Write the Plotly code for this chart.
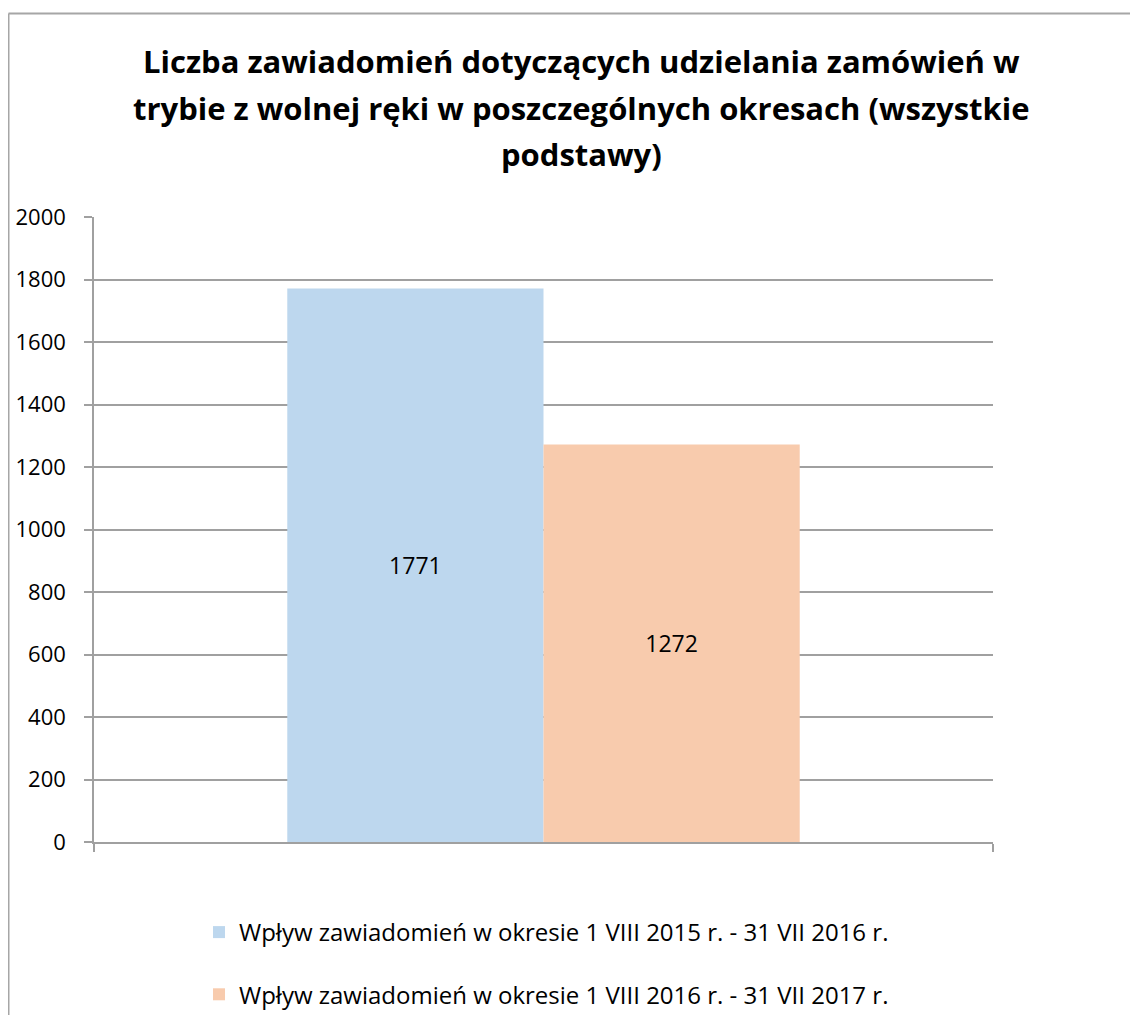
import plotly.graph_objects as go

categories = [""]
series_names = [
    "Wpływ zawiadomień w okresie 1 VIII 2015 r. - 31 VII 2016 r.",
    "Wpływ zawiadomień w okresie 1 VIII 2016 r. - 31 VII 2017 r.",
]
series_values = [[1771], [1272]]
series_colors = ["#BDD7EE", "#F8CBAD"]
y_ticks = [0, 200, 400, 600, 800, 1000, 1200, 1400, 1600, 1800, 2000]
title_lines = [
    "Liczba zawiadomień dotyczących udzielania zamówień w",
    "trybie z wolnej ręki w poszczególnych okresach (wszystkie",
    "podstawy)",
]

FONT = "Open Sans"
OFF = 8  # page body margin
W, H = 1138 - OFF, 1015 - OFF
L, R, T, B = 94 - OFF, 1138 - 993, 217 - OFF, 1015 - 842

fig = go.Figure()
for i, (name, vals, col) in enumerate(zip(series_names, series_values, series_colors)):
    fig.add_trace(go.Bar(
        x=categories, y=vals, name=name, marker_color=col, marker_line_width=0,
        text=[str(v) for v in vals], textposition="inside", insidetextanchor="middle",
        textangle=0, textfont=dict(size=23, color="black", family=FONT),
        legendgroup=f"g{i}",
    ))

pw = W - L - R
ph = H - T - B
def px_x(p):  # reference page pixel -> paper x
    return (p - OFF - L) / pw
def px_y(p):  # reference page pixel -> paper y
    return (H - B - (p - OFF)) / ph

for line, yc in zip(title_lines, [61, 108, 154]):
    fig.add_annotation(text=line, xref="paper", yref="paper", x=px_x(581), y=px_y(yc),
                       xanchor="center", yanchor="middle", showarrow=False,
                       font=dict(size=31, family=FONT, color="black", weight="bold"))

fig.update_layout(
    width=W, height=H,
    margin=dict(l=L, r=R, t=T, b=B, autoexpand=False),
    paper_bgcolor="white", plot_bgcolor="white",
    barmode="group", bargap=0.43, bargroupgap=0,
    font=dict(family=FONT, color="black"),
    showlegend=True,
    legend=dict(x=px_x(199), xanchor="left", y=px_y(910), yanchor="top",
                orientation="v", tracegroupgap=28,
                font=dict(size=24, family=FONT, color="black"),
                bgcolor="rgba(0,0,0,0)"),
    xaxis=dict(type="category", showticklabels=False, tickson="boundaries",
               ticks="outside", ticklen=8, tickcolor="#A0A0A0", tickwidth=1.5,
               showline=True, linecolor="#A0A0A0", linewidth=1.5,
               showgrid=False, zeroline=False, range=[-0.5, 0.5]),
    yaxis=dict(range=[0, 2000], tickvals=y_ticks, ticks="outside", ticklen=8,
               tickcolor="#A0A0A0", tickwidth=1.5, showline=True,
               linecolor="#A0A0A0", linewidth=1.5, showgrid=True,
               gridcolor="#A0A0A0", gridwidth=1.5, zeroline=False,
               tickfont=dict(size=22, family=FONT, color="black"),
               ticklabelstandoff=14),
)

# outer chart border (left and top edges visible)
fig.add_shape(type="line", xref="paper", yref="paper",
              x0=px_x(8.5), x1=px_x(1150), y0=px_y(13.5), y1=px_y(13.5),
              line=dict(color="#A6A6A6", width=2))
fig.add_shape(type="line", xref="paper", yref="paper",
              x0=px_x(8.5), x1=px_x(8.5), y0=px_y(13.5), y1=px_y(1030),
              line=dict(color="#A6A6A6", width=2))

fig.write_html("out.html")
